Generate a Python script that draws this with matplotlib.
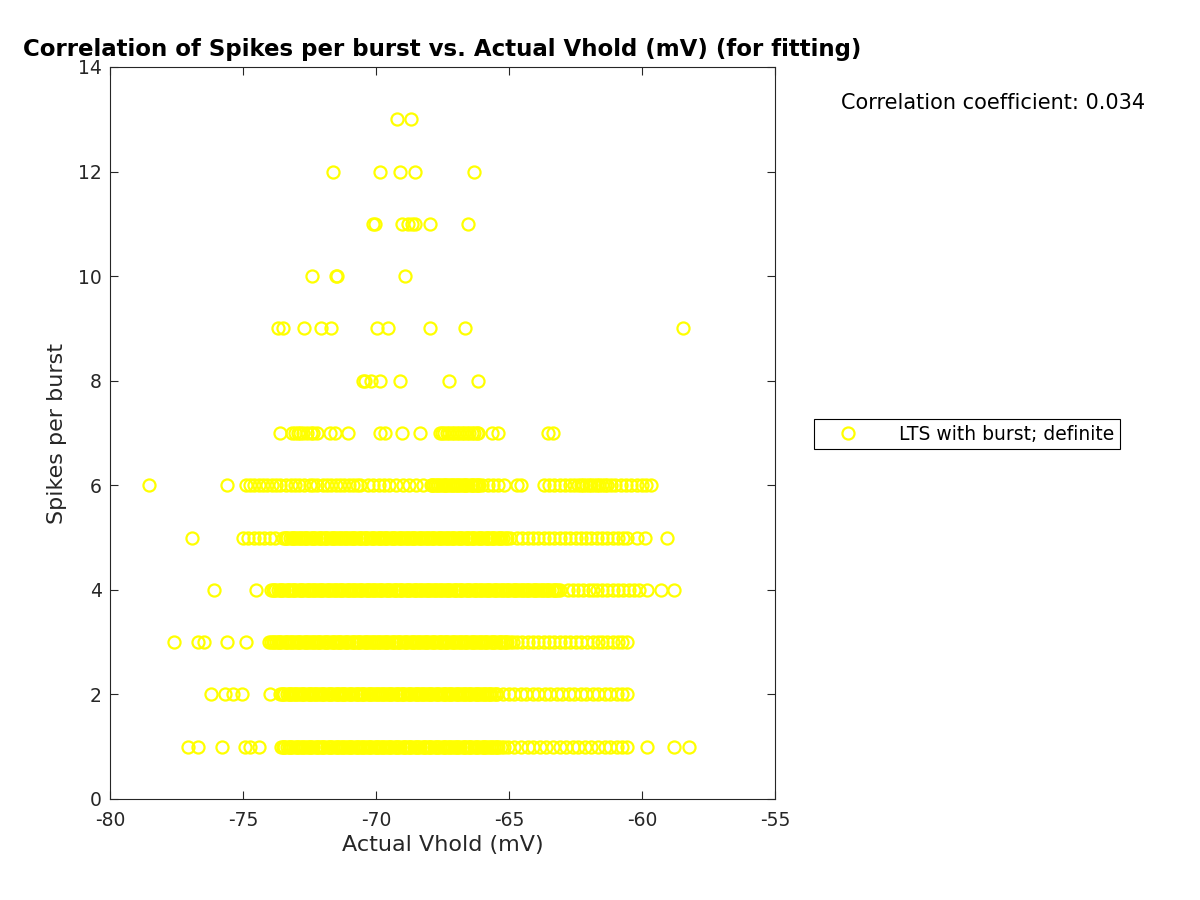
import matplotlib
matplotlib.use('Agg')
import matplotlib.pyplot as plt

# Actual Vhold (mV) of each point, one list per spikes-per-burst value
vhold_1 = [-77.05, -76.69, -75.78, -74.91, -74.74, -74.38,
           -73.58, -73.5, -73.44, -73.35, -73.27, -73.18, -73.11, -73.01, -72.93, -72.86,
           -72.77, -72.68, -72.61, -72.52, -72.44, -72.36, -72.27, -72.18, -72.1, -72.03,
           -71.94, -71.85, -71.77, -71.69, -71.6, -71.52, -71.43, -71.36, -71.27, -71.18,
           -71.1, -71.02, -70.93, -70.85, -70.76, -70.68, -70.6, -70.51, -70.43, -70.35,
           -70.26, -70.18, -70.09, -70.01, -69.93, -69.84, -69.76, -69.68, -69.59, -69.51,
           -69.42, -69.34, -69.26, -69.17, -69.09, -69.0, -68.92, -68.84, -68.75, -68.67,
           -68.59, -68.5, -68.42, -68.33, -68.25, -68.17, -68.08, -68.0, -67.92, -67.83,
           -67.75, -67.66, -67.58, -67.5, -67.41, -67.33, -67.24, -67.16, -67.08, -66.99,
           -66.91, -66.83, -66.74, -66.66, -66.57, -66.49, -66.41, -66.32, -66.24, -66.15,
           -66.07, -65.99, -65.9, -65.82, -65.74, -65.65, -65.57, -65.48, -65.4, -65.3, -65.2,
           -65.05, -64.8, -64.55, -64.3, -64.1, -63.85, -63.6, -63.35, -63.1, -62.85,
           -62.6, -62.4, -62.15, -61.9, -61.65, -61.4, -61.2, -60.95, -60.75, -60.56,
           -59.8, -58.8, -58.25]

vhold_2 = [-76.21, -75.68, -75.39, -75.03,
           -74.0, -73.62, -73.53, -73.45, -73.36, -73.28, -73.2, -73.11, -73.03, -72.95,
           -72.86, -72.78, -72.7, -72.61, -72.53, -72.45, -72.36, -72.28, -72.19, -72.11,
           -72.03, -71.94, -71.86, -71.78, -71.69, -71.61, -71.52, -71.44, -71.36, -71.27,
           -71.19, -71.11, -71.02, -70.94, -70.85, -70.77, -70.69, -70.6, -70.52, -70.44,
           -70.35, -70.27, -70.18, -70.1, -70.02, -69.93, -69.85, -69.77, -69.68, -69.6,
           -69.51, -69.43, -69.35, -69.26, -69.18, -69.1, -69.01, -68.93, -68.84, -68.76,
           -68.68, -68.59, -68.51, -68.43, -68.34, -68.26, -68.17, -68.09, -68.01, -67.92,
           -67.84, -67.76, -67.67, -67.59, -67.5, -67.42, -67.34, -67.25, -67.17, -67.09,
           -67.0, -66.92, -66.83, -66.75, -66.67, -66.58, -66.5, -66.42, -66.33, -66.25,
           -66.16, -66.08, -66.0, -65.91, -65.83, -65.75, -65.66, -65.58, -65.5, -65.45,
           -65.23, -65.0, -64.8, -64.55, -64.35, -64.1, -63.9, -63.65, -63.45, -63.2,
           -63.0, -62.75, -62.55, -62.3, -62.1, -61.85, -61.65, -61.4, -61.2, -60.95,
           -60.75, -60.56]

vhold_3 = [-77.59, -76.69, -76.47, -75.6, -74.89,
           -74.02, -73.94, -73.85, -73.77, -73.68, -73.6, -73.52, -73.43, -73.35, -73.27,
           -73.18, -73.1, -73.01, -72.93, -72.85, -72.76, -72.68, -72.6, -72.51, -72.43,
           -72.34, -72.26, -72.18, -72.09, -72.01, -71.93, -71.84, -71.76, -71.67, -71.59,
           -71.51, -71.42, -71.34, -71.26, -71.17, -71.09, -71.0, -70.92, -70.84, -70.75,
           -70.67, -70.59, -70.5, -70.42, -70.33, -70.25, -70.17, -70.08, -70.0, -69.92,
           -69.83, -69.75, -69.66, -69.58, -69.5, -69.41, -69.33, -69.25, -69.16, -69.08,
           -68.99, -68.91, -68.83, -68.74, -68.66, -68.58, -68.49, -68.41, -68.32, -68.24,
           -68.16, -68.07, -67.99, -67.91, -67.82, -67.74, -67.65, -67.57, -67.49, -67.4,
           -67.32, -67.24, -67.15, -67.07, -66.98, -66.9, -66.82, -66.73, -66.65, -66.57,
           -66.48, -66.4, -66.31, -66.23, -66.15, -66.06, -65.98, -65.9, -65.81, -65.73,
           -65.64, -65.56, -65.48, -65.39, -65.31, -65.23, -65.14, -65.06, -64.97, -64.85,
           -64.7, -64.5, -64.3, -64.1, -63.9, -63.7, -63.5, -63.3, -63.1, -62.9,
           -62.7, -62.5, -62.3, -62.07,
           -61.84, -61.65, -61.5, -61.3, -61.1, -60.9, -60.75, -60.56]

vhold_4 = [-76.1, -74.52,
           -73.95, -73.87, -73.78, -73.7, -73.61, -73.53, -73.45, -73.36, -73.28, -73.2,
           -73.11, -73.03, -72.94, -72.86, -72.78, -72.69, -72.61, -72.53, -72.44, -72.36,
           -72.27, -72.19, -72.11, -72.02, -71.94, -71.86, -71.77, -71.69, -71.6, -71.52,
           -71.44, -71.35, -71.27, -71.19, -71.1, -71.02, -70.93, -70.85, -70.77, -70.68,
           -70.6, -70.52, -70.43, -70.35, -70.26, -70.18, -70.1, -70.01, -69.93, -69.85,
           -69.76, -69.68, -69.59, -69.51, -69.43, -69.34, -69.26, -69.18, -69.09, -69.01,
           -68.92, -68.84, -68.76, -68.67, -68.59, -68.51, -68.42, -68.34, -68.25, -68.17,
           -68.09, -68.0, -67.92, -67.84, -67.75, -67.67, -67.58, -67.5, -67.42, -67.33,
           -67.25, -67.17, -67.08, -67.0, -66.91, -66.83, -66.75, -66.66, -66.58, -66.5,
           -66.41, -66.33, -66.24, -66.16, -66.08, -65.99, -65.91, -65.83, -65.74, -65.66,
           -65.57, -65.49, -65.41, -65.32, -65.24, -65.16, -65.07, -64.99, -64.9, -64.82,
           -64.74, -64.65, -64.57, -64.49, -64.4, -64.32, -64.23, -64.15, -64.07, -63.98,
           -63.9, -63.82, -63.73, -63.65, -63.56, -63.48, -63.4, -63.31, -63.23, -63.15, -63.08,
           -62.8, -62.6, -62.4, -62.2, -62.0, -61.85, -61.7, -61.5, -61.3, -61.1,
           -60.9, -60.7, -60.5, -60.3, -60.1, -59.8, -59.3, -58.8]

vhold_5 = [-76.9,
           -75.0, -74.8, -74.6, -74.4, -74.2, -74.0, -73.8,
           -73.5, -73.42, -73.33, -73.25, -73.17, -73.08, -73.0, -72.92, -72.83, -72.75,
           -72.66, -72.58, -72.5, -72.41, -72.33, -72.25, -72.16, -72.08, -71.99, -71.91,
           -71.83, -71.74, -71.66, -71.58, -71.49, -71.41, -71.32, -71.24, -71.16, -71.07,
           -70.99, -70.91, -70.82, -70.74, -70.65, -70.57, -70.49, -70.4, -70.32, -70.24,
           -70.15, -70.07, -69.98, -69.9, -69.82, -69.73, -69.65, -69.57, -69.48, -69.4,
           -69.31, -69.23, -69.15, -69.06, -68.98, -68.9, -68.81, -68.73, -68.64, -68.56,
           -68.48, -68.39, -68.31, -68.23, -68.14, -68.06, -67.97, -67.89, -67.81, -67.72,
           -67.64, -67.56, -67.47, -67.39, -67.3, -67.22, -67.14, -67.05, -66.97, -66.89,
           -66.8, -66.72, -66.63, -66.55, -66.47, -66.38, -66.3, -66.22, -66.13, -66.05,
           -65.96, -65.88, -65.8, -65.71, -65.63, -65.55, -65.46, -65.38, -65.29, -65.21,
           -65.13, -64.96,
           -64.7, -64.5, -64.3, -64.1, -63.9, -63.7, -63.5, -63.3, -63.1, -62.9,
           -62.7, -62.5, -62.3, -62.1, -61.9, -61.7, -61.5, -61.3, -61.1, -60.9, -60.7,
           -60.56, -60.19, -59.89, -59.05]

vhold_6 = [-78.54, -75.6,
           -74.9, -74.75, -74.6, -74.4, -74.25, -74.1, -73.9, -73.75, -73.6, -73.4,
           -73.2, -73.05, -72.9, -72.7, -72.5, -72.35, -72.2, -72.0, -71.85, -71.7,
           -71.5, -71.35, -71.2, -71.0, -70.85, -70.7, -70.6,
           -70.3, -70.1, -69.9, -69.7, -69.5, -69.25,
           -69.0, -68.75, -68.5, -68.25,
           -67.95, -67.87, -67.78, -67.7, -67.61, -67.53, -67.45, -67.36, -67.28, -67.2,
           -67.11, -67.03, -66.94, -66.86, -66.78, -66.69, -66.61, -66.53, -66.44, -66.36,
           -66.27, -66.19, -66.11, -66.02, -65.8, -65.6, -65.4, -65.2,
           -64.7, -64.55,
           -63.7, -63.5, -63.3, -63.1, -62.9, -62.7, -62.55, -62.4, -62.3, -62.2,
           -62.1, -62.0, -61.9, -61.8, -61.7, -61.6, -61.5, -61.4, -61.3, -61.15,
           -61.0, -60.8, -60.6, -60.4, -60.2, -60.0, -59.85, -59.65]

vhold_7 = [-73.61, -73.17, -73.05, -72.95, -72.86, -72.73, -72.6, -72.45, -72.36, -72.23,
           -71.73, -71.54, -71.04, -69.85, -69.66, -69.03, -68.35,
           -67.6, -67.53, -67.45, -67.34, -67.25, -67.15, -67.05, -66.97, -66.88, -66.78,
           -66.7, -66.59, -66.5, -66.4, -66.3, -66.21, -66.15, -65.65, -65.4, -63.52, -63.33]

vhold_8 = [-70.48, -70.4, -70.18, -69.86, -69.08, -67.27, -66.18]
vhold_9 = [-73.68, -73.51, -72.7, -72.06, -71.68, -69.95, -69.56, -67.98, -66.64, -58.45]
vhold_10 = [-72.4, -71.51, -71.45, -68.92]
vhold_11 = [-70.1, -70.05, -69.01, -68.81, -68.64, -68.55, -67.98, -66.55]
vhold_12 = [-71.6, -69.86, -69.08, -68.53, -66.33]
vhold_13 = [-69.2, -68.7]

# extra readings packed inside the solid bands of rows 1-6
band_1 = [-73.46, -73.22, -72.98, -72.73, -72.48, -72.23, -71.99, -71.73, -71.47, -71.23,
          -70.97, -70.72, -70.47, -70.22, -69.97, -69.72, -69.47, -69.21, -68.96, -68.71,
          -68.46, -68.21, -67.96, -67.71, -67.45, -67.2, -66.95, -66.7, -66.45, -66.2,
          -65.95, -65.69, -65.44]
band_2 = [-73.49, -73.24, -72.99, -72.74, -72.49, -72.24, -71.99, -71.74, -71.48, -71.23,
          -70.98, -70.73, -70.48, -70.22, -69.97, -69.72, -69.47, -69.22, -68.97, -68.72,
          -68.47, -68.22, -67.96, -67.71, -67.46, -67.21, -66.96, -66.71, -66.46, -66.2,
          -65.95, -65.7]
band_3 = [-73.89, -73.64, -73.39, -73.14, -72.89, -72.64, -72.38, -72.13, -71.88, -71.63,
          -71.38, -71.13, -70.88, -70.63, -70.38, -70.12, -69.87, -69.62, -69.37, -69.12,
          -68.87, -68.62, -68.37, -68.12, -67.86, -67.61, -67.36, -67.11, -66.86, -66.61,
          -66.36, -66.1, -65.85, -65.6, -65.35, -65.1]
band_4 = [-73.82, -73.57, -73.32, -73.07, -72.82, -72.57, -72.32, -72.07, -71.81, -71.56,
          -71.31, -71.06, -70.81, -70.56, -70.31, -70.06, -69.8, -69.55, -69.3, -69.05,
          -68.8, -68.55, -68.3, -68.05, -67.79, -67.54, -67.29, -67.04, -66.79, -66.54,
          -66.29, -66.04, -65.78, -65.53, -65.28, -65.03, -64.78, -64.53, -64.28, -64.02,
          -63.77, -63.52, -63.27]
band_5 = [-73.38, -73.12, -72.87, -72.62, -72.37, -72.12, -71.87, -71.62, -71.36, -71.11,
          -70.86, -70.61, -70.36, -70.11, -69.86, -69.61, -69.35, -69.1, -68.85, -68.6,
          -68.35, -68.1, -67.85, -67.6, -67.34, -67.09, -66.84, -66.59, -66.34, -66.09,
          -65.84, -65.59, -65.33, -65.08]
band_6 = [-67.91, -67.66, -67.41, -67.16, -66.9, -66.65, -66.4, -66.15]

rows = [vhold_1, vhold_2, vhold_3, vhold_4, vhold_5, vhold_6, vhold_7,
        vhold_8, vhold_9, vhold_10, vhold_11, vhold_12, vhold_13]
bands = [band_1, band_2, band_3, band_4, band_5, band_6]

x = []
y = []
for n, vals in enumerate(rows):
    x += vals
    y += [n + 1] * len(vals)
for n, vals in enumerate(bands):
    x += vals
    y += [n + 1] * len(vals)

plt.rcParams['font.family'] = 'DejaVu Sans'
plt.rcParams['axes.unicode_minus'] = False
fig = plt.figure(figsize=(12, 9), dpi=100)
ax = fig.add_axes([110 / 1200, 101 / 900, 665 / 1200, 732 / 900])

ax.plot(x, y, 'o', markerfacecolor='none', markeredgecolor='yellow',
        markersize=8.7, markeredgewidth=1.6, label='LTS with burst; definite')

ax.set_xlim(-80, -55)
ax.set_ylim(0, 14)
ax.set_xticks([-80, -75, -70, -65, -60, -55])
ax.set_yticks(range(0, 15, 2))
ax.tick_params(direction='in', top=True, right=True, length=6, width=0.8,
               labelsize=13.5, colors='#262626')
ax.tick_params(axis='x', pad=9)
ax.tick_params(axis='y', pad=6)
for s in ax.spines.values():
    s.set_color('#262626')
    s.set_linewidth(0.8)

ax.set_xlabel('Actual Vhold (mV)', fontsize=16, color='#262626', labelpad=3)
ax.set_ylabel('Spikes per burst', fontsize=16, color='#262626', labelpad=8)
ax.set_title('Correlation of Spikes per burst vs. Actual Vhold (mV) (for fitting)',
             fontsize=16.5, fontweight='bold', pad=8)

fig.text(841 / 1200, 1 - 103 / 900, 'Correlation coefficient: 0.034',
         fontsize=15, va='center', ha='left')

leg = fig.legend(loc='center', bbox_to_anchor=(967 / 1200, 1 - 434 / 900),
                 fontsize=13.5, frameon=True, fancybox=False, edgecolor='black',
                 framealpha=1, handlelength=3, handletextpad=1.2, borderpad=0.3)
leg.get_frame().set_linewidth(0.8)

fig.savefig('out.png', dpi=100)
